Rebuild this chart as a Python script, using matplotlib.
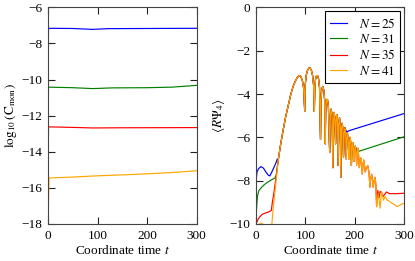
import numpy as np
import matplotlib
matplotlib.use("Agg")
import matplotlib.pyplot as plt

plt.rcParams['font.family'] = ['Liberation Serif', 'DejaVu Serif']
plt.rcParams['mathtext.fontset'] = 'stix'
plt.rcParams['axes.unicode_minus'] = True

labels = [r"$N = 25$", r"$N = 31$", r"$N = 35$", r"$N = 41$"]
colors = ["#0000ff", "#008000", "#ff0000", "#ffa500"]

# ---- Left panel: log10(C_mon) ----
t_mon_25 = [0, 1, 50, 90, 120, 200, 300]
c_mon_25 = [-10.0, -7.16, -7.17, -7.22, -7.18, -7.17, -7.16]
t_mon_31 = [0, 1, 50, 90, 130, 200, 250, 300]
c_mon_31 = [-12.3, -10.42, -10.45, -10.5, -10.46, -10.45, -10.42, -10.32]
t_mon_35 = [0, 1, 50, 90, 150, 300]
c_mon_35 = [-15.3, -12.62, -12.65, -12.68, -12.67, -12.66]
t_mon_41 = [0, 2, 50, 100, 150, 200, 250, 300]
c_mon_41 = [-18.0, -15.45, -15.4, -15.33, -15.28, -15.22, -15.15, -15.05]

# ---- Right panel: <R Psi_4> ----
# shared ringdown (all resolutions agree here)
t_ring = [45, 50, 55, 60, 65, 70, 75, 80, 84, 88, 91, 94, 96.5, 98.5,
          99.5, 101.5, 104, 107, 109.5, 112, 114.5, 116.5, 118,
          119, 120.5, 122.5, 124.5, 126.5, 128.5, 130.5,
          131.5, 133, 135, 137, 139, 140,
          141, 142.5, 144.5, 146.5, 149,
          150.5, 152, 154, 155.5,
          157, 158, 159.5, 161,
          162.3, 163.5, 165, 166,
          167.5, 169, 170.5, 171.5,
          173, 174.5, 176, 177,
          178.5, 180, 181.5, 182.5,
          184, 185, 186.5, 188,
          189, 190.5, 192, 193,
          194.5, 195.5, 197, 198,
          199.5, 201, 202.5, 203.5,
          205, 206, 207.5, 209,
          210.5, 212, 213.5, 215,
          216.5, 218, 219.5, 221,
          223, 226, 228.5, 230.5,
          232, 234, 235.5, 237,
          239, 241, 242.5, 244]
y_ring = [-7.04, -6.3, -5.65, -5.05, -4.55, -4.05, -3.65, -3.38, -3.22, -3.15, -3.2, -3.4, -3.75, -4.8,
          -3.6, -3.15, -2.92, -2.8, -2.8, -2.9, -3.15, -3.6, -4.8,
          -3.7, -3.3, -3.15, -3.15, -3.3, -3.7, -6.1,
          -4.3, -3.8, -3.65, -3.8, -4.3, -6.3,
          -4.8, -4.3, -4.25, -4.6, -6.7,
          -5.0, -4.7, -5.0, -7.4,
          -5.2, -4.85, -5.1, -6.3,
          -5.2, -4.95, -5.3, -7.3,
          -5.4, -5.1, -5.5, -7.85,
          -5.6, -5.35, -5.7, -6.9,
          -5.8, -5.55, -5.9, -7.0,
          -6.05, -5.8, -6.1, -7.0,
          -6.3, -6.0, -6.3, -7.3,
          -6.45, -6.25, -6.5, -7.1,
          -6.6, -6.4, -6.7, -7.3,
          -6.7, -6.5, -6.8, -7.4,
          -7.15, -6.95, -7.2, -7.7,
          -7.25, -7.05, -7.3, -7.6,
          -7.45, -7.3, -7.6, -8.3,
          -7.9, -7.7, -7.95, -8.3,
          -8.0, -7.85, -8.2, -9.2]

# resolution-dependent early parts
t_early_25 = [0, 2, 5, 10, 15, 20, 25, 28, 32, 36, 40, 43]
y_early_25 = [-8.05, -7.6, -7.45, -7.35, -7.42, -7.6, -7.75, -7.78, -7.6, -7.4, -7.2, -7.0]
t_early_31 = [0, 1, 3, 6, 11.5, 16, 21.6, 30, 38, 41]
y_early_31 = [-10.0, -9.3, -8.7, -8.45, -8.3, -8.2, -8.1, -7.98, -7.88, -7.75]
t_early_35 = [0, 2, 5, 8, 13, 18, 25, 31, 33, 36, 39]
y_early_35 = [-10.0, -9.9, -9.75, -9.66, -9.55, -9.5, -9.45, -9.38, -9.0, -8.6, -8.1]
t_early_41 = [3, 8, 14, 20, 28, 31, 32.5, 35, 38.4, 42]
y_early_41 = [-10.3, -9.97, -10.0, -10.4, -10.8, -10.3, -9.9, -9.2, -8.5, -7.7]

# where each resolution departs from the common ringdown
t_depart = [180, 201, 244, 244]

# resolution-dependent late parts
t_late_25 = [183, 190, 300]
y_late_25 = [-5.75, -5.68, -4.9]
t_late_31 = [204.5, 210, 300]
y_late_31 = [-6.65, -6.63, -5.97]
t_late_35 = [246.5, 249, 251, 254, 257, 264, 270, 285, 300]
y_late_35 = [-8.45, -8.8, -8.5, -8.55, -8.73, -8.52, -8.6, -8.6, -8.58]
t_late_41 = [247.5, 251, 254, 258, 261, 266, 270, 275, 280, 285, 290, 295, 300]
y_late_41 = [-8.6, -9.27, -8.5, -8.9, -8.73, -8.92, -8.95, -9.04, -9.1, -9.2, -9.15, -9.08, -9.05]

t_mon = [t_mon_25, t_mon_31, t_mon_35, t_mon_41]
c_mon = [c_mon_25, c_mon_31, c_mon_35, c_mon_41]
t_early = [t_early_25, t_early_31, t_early_35, t_early_41]
y_early = [y_early_25, y_early_31, y_early_35, y_early_41]
t_late = [t_late_25, t_late_31, t_late_35, t_late_41]
y_late = [y_late_25, y_late_31, y_late_35, y_late_41]

fig = plt.figure(figsize=(4.15, 2.61), dpi=100)
ax1 = fig.add_axes([0.1157, 0.1418, 0.3583, 0.830])
ax2 = fig.add_axes([0.6169, 0.1418, 0.3573, 0.830])

lw = 0.85
for i in range(4):
    ax1.plot(t_mon[i], c_mon[i], color=colors[i], lw=lw)

tr = np.array(t_ring)
yr = np.array(y_ring)
for i in range(4):
    m = tr <= t_depart[i]
    t = np.concatenate([t_early[i], tr[m], t_late[i]])
    y = np.concatenate([y_early[i], yr[m], y_late[i]])
    ax2.plot(t, y, color=colors[i], lw=lw, label=labels[i])

fs = 9.5
ax1.set_xlim(0, 300)
ax1.set_ylim(-18, -6)
ax1.set_xticks([0, 100, 200, 300])
ax1.set_yticks(np.arange(-18, -5, 2))
ax1.set_xlabel(r"Coordinate time $t$", fontsize=fs, labelpad=2)
ax1.set_ylabel(r"$\log_{10}(\mathrm{C}_{\mathrm{mon}})$", fontsize=fs, labelpad=2)

ax2.set_xlim(0, 300)
ax2.set_ylim(-10, 0)
ax2.set_xticks([0, 100, 200, 300])
ax2.set_yticks(np.arange(-10, 1, 2))
ax2.set_xlabel(r"Coordinate time $t$", fontsize=fs, labelpad=2)
ax2.set_ylabel(r"$\langle R\Psi_4\rangle$", fontsize=fs, labelpad=2)

for ax in (ax1, ax2):
    ax.tick_params(direction='in', top=True, right=True, length=5, width=0.8,
                   labelsize=fs, colors='#222222', labelcolor='black', pad=4)
    for s in ax.spines.values():
        s.set_linewidth(0.8)
        s.set_color('#444444')

leg = ax2.legend(loc='upper right', fontsize=fs, frameon=True, fancybox=False,
                 edgecolor='black', framealpha=1, handlelength=1.25,
                 borderpad=0.4, labelspacing=0.18, handletextpad=0.9,
                 borderaxespad=0.3)
leg.get_frame().set_linewidth(0.8)

fig.savefig("out.png", dpi=100)
